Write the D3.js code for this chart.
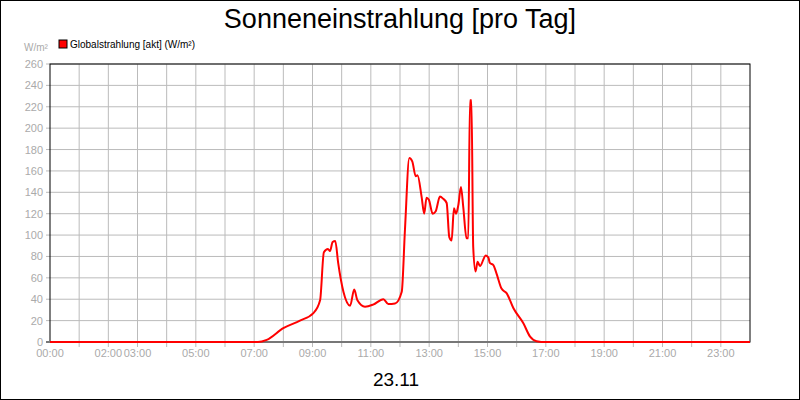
<!DOCTYPE html>
<html><head><meta charset="utf-8">
<script src="https://cdn.jsdelivr.net/npm/d3@7"></script>
<style>body{margin:0}svg{font-family:"Liberation Sans",Arial,sans-serif}</style>
</head><body><svg id="c" width="800" height="400"></svg>
<script>
const hours = [0,7.13,7.43,8.0,8.57,9.03,9.26,9.39,9.53,9.6,9.69,9.78,9.88,10.06,10.29,10.43,10.54,10.8,11.08,11.43,11.6,11.83,12.06,12.17,12.32,12.42,12.54,12.6,12.74,12.83,12.91,12.99,13.12,13.22,13.37,13.48,13.6,13.69,13.77,13.85,13.92,14.0,14.09,14.17,14.28,14.34,14.4,14.45,14.51,14.59,14.66,14.74,14.94,15.03,15.08,15.2,15.31,15.48,15.66,15.89,16.23,16.46,16.68,17.0,24];
const values = [0,0,2,13,20,27,39,84,87,85,93.5,94.5,74,47,34,49,39,33,35,40,35.5,36,47,105,172,169,155,156,136,120,135,133,120,122,136,134,130,98,95,125,120,128,145,126,97,97,226,226,89,66,75,71,81,79,74,72,64,50,45.5,31.5,17.5,5,0.8,0,0];
const yTicks = [0,20,40,60,80,100,120,140,160,180,200,220,240,260];
const xTickHours = [0,2,3,5,7,9,11,13,15,17,19,21,23];
const xTickLabels = ["00:00","02:00","03:00","05:00","07:00","09:00","11:00","13:00","15:00","17:00","19:00","21:00","23:00"];
const seriesName = "Globalstrahlung [akt] (W/m²)";

const svg = d3.select("#c");
const L=50,R=750,T=64,B=342;
const x = d3.scaleLinear().domain([0,24]).range([L,R]);
const y = d3.scaleLinear().domain([0,260]).range([B,T]);
svg.append("rect").attr("x",0.5).attr("y",0.5).attr("width",799).attr("height",399).attr("fill","#fff").attr("stroke","#000");
svg.append("g").selectAll("line").data(d3.range(1,24)).join("line")
 .attr("x1",d=>x(d)).attr("x2",d=>x(d)).attr("y1",T).attr("y2",B+5).attr("stroke","#bbb");
svg.append("g").selectAll("line").data(yTicks.slice(1)).join("line")
 .attr("x1",L-4).attr("x2",R).attr("y1",d=>y(d)).attr("y2",d=>y(d)).attr("stroke","#bbb");
svg.append("rect").attr("x",L).attr("y",T).attr("width",R-L).attr("height",B-T).attr("fill","none").attr("stroke","#000");
svg.append("line").attr("x1",L-4).attr("x2",R).attr("y1",B).attr("y2",B).attr("stroke","#777").attr("stroke-width",2);
svg.append("g").selectAll("text").data(yTicks).join("text")
 .attr("x",L-7).attr("y",d=>y(d)+4).attr("text-anchor","end").attr("font-size",11).attr("fill","#aaa").text(d=>d);
svg.append("g").selectAll("text").data(xTickHours).join("text")
 .attr("x",d=>x(d)).attr("y",B+15).attr("text-anchor","middle").attr("font-size",11).attr("fill","#aaa").text((d,i)=>xTickLabels[i]);
svg.append("text").attr("x",36).attr("y",51).attr("text-anchor","middle").attr("font-size",10).attr("fill","#aaa").text("W/m²");
svg.append("text").attr("x",400).attr("y",28).attr("text-anchor","middle").attr("font-size",27).text("Sonneneinstrahlung [pro Tag]");
svg.append("text").attr("x",396).attr("y",386).attr("text-anchor","middle").attr("font-size",19).text("23.11");
svg.append("rect").attr("x",59).attr("y",40).attr("width",8).attr("height",8).attr("fill","#f00").attr("stroke","#000");
svg.append("text").attr("x",70).attr("y",48).attr("font-size",10).text(seriesName);
const line = d3.line().x((d,i)=>x(hours[i])).y(d=>y(d)).curve(d3.curveMonotoneX);
svg.append("path").datum(values).attr("d",line).attr("fill","none").attr("stroke","#f00").attr("stroke-width",2);
</script></body></html>
